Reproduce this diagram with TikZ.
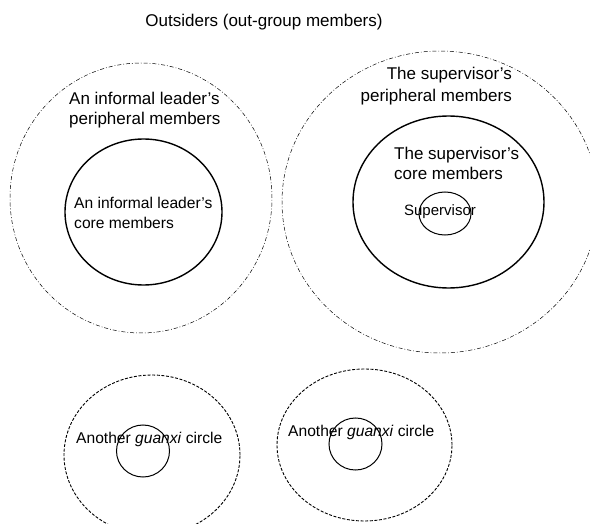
\documentclass[tikz,border=0pt]{standalone}
\usepackage{fontspec}
\setmainfont{Liberation Sans}
\usetikzlibrary{shapes.geometric}

\begin{document}
\begin{tikzpicture}[x = 1pt, y = -1pt]
\tikzstyle{ringStyle} = [shape = ellipse, inner sep = 0pt, draw]
\tikzstyle{outerStyle} = [ringStyle, line width = 0.5pt, dash pattern = on 4pt off 2pt on 0.8pt off 2pt]
\tikzstyle{coreStyle} = [ringStyle, line width = 1.4pt]
\tikzstyle{smallStyle} = [ringStyle, line width = 1.0pt]
\tikzstyle{otherStyle} = [ringStyle, line width = 0.9pt, dash pattern = on 3pt off 1.6pt]
\tikzstyle{labelStyle} = [inner sep = 0pt, font = \fontsize{17}{20}\selectfont]
\tikzstyle{smallLabelStyle} = [inner sep = 0pt, font = \fontsize{15.6}{20}\selectfont]
\clip (0,0) rectangle (590,524);
\node[outerStyle, minimum width = 262pt, minimum height = 270pt] (c0) at (141,198) {};
\node[coreStyle, minimum width = 157pt, minimum height = 146pt] (c1) at (143.5,212) {};
\node[outerStyle, minimum width = 316pt, minimum height = 302pt] (c2) at (440,202) {};
\node[coreStyle, minimum width = 191pt, minimum height = 172pt] (c3) at (448.5,202) {};
\node[smallStyle, minimum width = 52pt, minimum height = 43pt] (c4) at (445,213.5) {};
\node[otherStyle, minimum width = 176pt, minimum height = 160pt] (c5) at (152,455) {};
\node[smallStyle, minimum width = 53pt, minimum height = 52pt] (c6) at (143,451) {};
\node[otherStyle, minimum width = 175pt, minimum height = 152pt] (c7) at (364.5,445) {};
\node[smallStyle, minimum width = 53pt, minimum height = 52pt] (c8) at (355.5,444) {};
\node[labelStyle] (l0) at (264,22) {Outsiders (out-group members)};
\node[labelStyle, anchor = west, align = left] (l1) at (69,110) {An informal leader's\\peripheral members};
\node[smallLabelStyle, anchor = west, align = left] (l2) at (74,213) {An informal leader's\\core members};
\node[labelStyle, anchor = east, align = right, font = \fontsize{17}{22}\selectfont] (l3) at (512,86) {The supervisor's\\peripheral members};
\node[labelStyle, anchor = west, align = left] (l4) at (394,163) {The supervisor's\\core members};
\node[inner sep = 0pt, font = \fontsize{15}{18}\selectfont] (l5) at (440,212) {Supervisor};
\node[smallLabelStyle, anchor = west] (l6) at (76,439) {Another \textit{guanxi} circle};
\node[smallLabelStyle, anchor = west] (l7) at (288,432) {Another \textit{guanxi} circle};
\end{tikzpicture}
\end{document}
